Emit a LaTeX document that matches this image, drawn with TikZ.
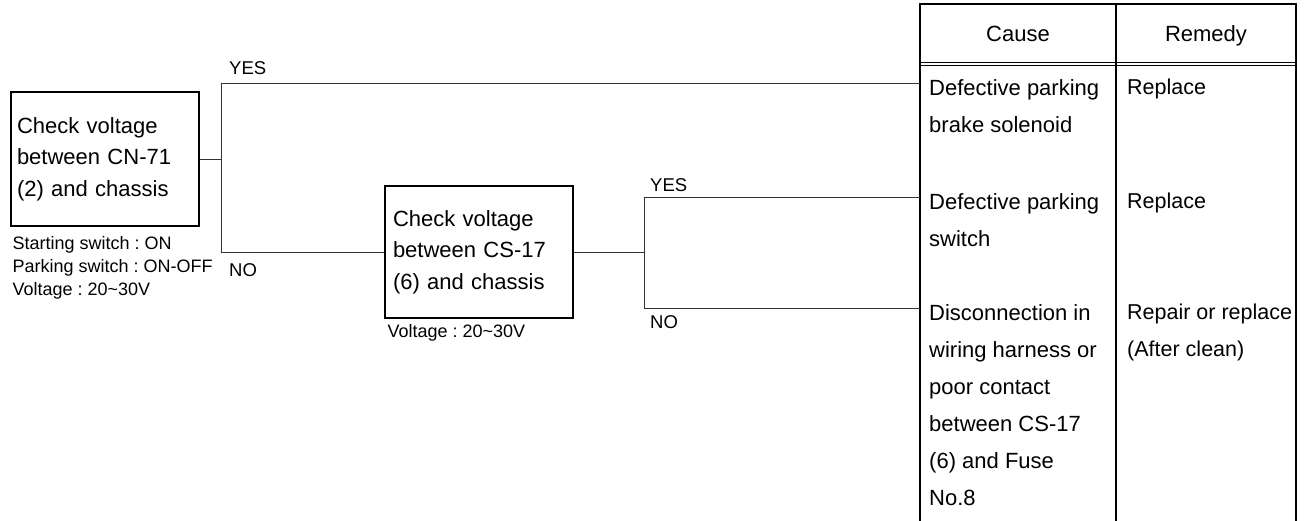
\documentclass[tikz,border=0pt]{standalone}
\usepackage{fontspec}
\setmainfont{Liberation Sans}
\usetikzlibrary{positioning}
\frenchspacing

\begin{document}
\begin{tikzpicture}[
    x=1pt, y=-1pt,
    check/.style={rectangle, draw, line width=1.2pt, text width=176pt, inner xsep=6pt, inner ysep=0pt, minimum height=134pt, align=left, font=\fontsize{22}{31.5}\selectfont},
    note/.style={anchor=north west, inner sep=0pt, align=left, font=\fontsize{18}{23}\selectfont},
    answer/.style={inner sep=0pt, font=\fontsize{18.5}{20}\selectfont},
    cell/.style={anchor=north west, inner xsep=9pt, inner ysep=0pt, align=left, font=\fontsize{22}{37}\selectfont},
    fix/.style={cell, inner xsep=11pt, font=\fontsize{21.5}{37}\selectfont},
    head/.style={anchor=base, inner sep=0pt, font=\fontsize{22}{26}\selectfont},
    line/.style={line width=0.9pt, draw=black!80},
    frame/.style={line width=1.4pt}
]
\useasboundingbox (0,0) rectangle (1306,521);

% checks
\node[check] (check1) at (105,159) {Check voltage\\between CN-71\\(2) and chassis};
\node[check, text width=172pt, inner xsep=8pt, minimum height=132pt] (check2) at (479,252) {Check voltage\\between CS-17\\(6) and chassis};

\node[note] (note1) at ([shift={(2pt,-10pt)}]check1.south west) {Starting switch : ON\\Parking switch : ON-OFF\\Voltage : 20\textasciitilde30V};
\node[note] (note2) at ([shift={(3pt,-6pt)}]check2.south west) {Voltage : 20\textasciitilde30V};

% table
\draw[frame] (920,521) -- (920,4) -- (1296,4) -- (1296,521);
\draw[frame] (1116,4) -- (1116,521);
\draw[line width=0.8pt] (920,62) -- (1296,62) (920,65.5) -- (1296,65.5);
\node[head] (cause) at (1018,42) {Cause};
\node[head] (remedy) at (1206,42) {Remedy};

\node[cell] (cause1) at (920,79) {Defective parking\\brake solenoid};
\node[cell] (cause2) at (920,193) {Defective parking\\switch};
\node[cell] (cause3) at (920,304) {Disconnection in\\wiring harness or\\poor contact\\between CS-17\\(6) and Fuse\\No.8};
\node[fix] (remedy1) at (1116,79) {Replace};
\node[fix] (remedy2) at (1116,193) {Replace};
\node[fix] (remedy3) at (1116,304) {Repair or replace\\(After clean)};

% branches
\coordinate (fork1) at (221,159);
\coordinate (fork2) at (644,252);

\draw[line] (check1.east) -- (fork1);
\draw[line] (fork1) |- ([yshift=-4pt]cause1.north west);
\draw[line] (fork1) |- (check2.west);
\draw[line] (check2.east) -- (fork2);
\draw[line] (fork2) |- ([yshift=-4pt]cause2.north west);
\draw[line] (fork2) |- ([yshift=-4pt]cause3.north west);

\node[answer, anchor=south west] (yes1) at (229,75) {YES};
\node[answer, anchor=north west] (no1) at (229,263) {NO};
\node[answer, anchor=south west] (yes2) at (650,192) {YES};
\node[answer, anchor=north west] (no2) at (650,315) {NO};

\end{tikzpicture}
\end{document}
